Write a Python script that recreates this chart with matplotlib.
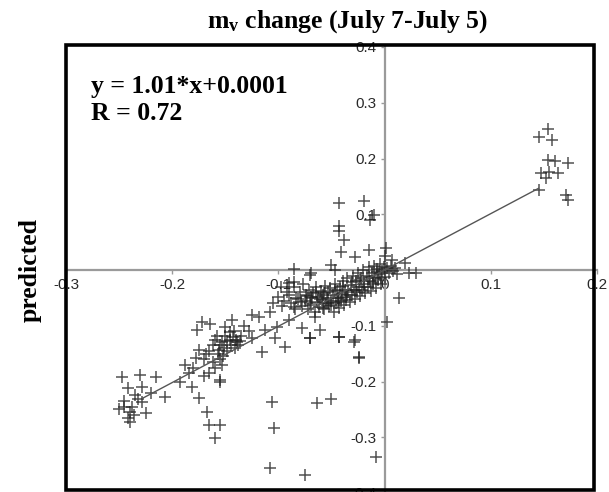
import matplotlib
matplotlib.use("Agg")
import matplotlib.pyplot as plt
from matplotlib.patches import Rectangle
from matplotlib.ticker import FixedLocator, FuncFormatter

plt.rcParams['axes.unicode_minus'] = False
plt.rcParams['mathtext.fontset'] = 'custom'
plt.rcParams['mathtext.rm'] = 'Liberation Serif:bold'
plt.rcParams['mathtext.it'] = 'Liberation Serif:bold'
plt.rcParams['mathtext.bf'] = 'Liberation Serif:bold'

# ---- data (observed vs predicted m_v change) ----
obs_x = [
    # upper right cluster
    0.154, 0.145, 0.158, 0.154, 0.160, 0.173, 0.147, 0.155, 0.163, 0.152, 0.145, 0.171, 0.173,
    # points above axis near y-axis
    -0.043, -0.019, -0.010, -0.014, -0.043, -0.043, -0.038, -0.041, -0.015, 0.001, -0.028, 0.000,
    0.007, 0.019, 0.030, 0.023,
    # scattered lower right of core
    0.014, 0.002, -0.029, -0.024, -0.043, -0.070, -0.064, -0.050, -0.008, -0.075, -0.106, -0.104,
    -0.108, -0.167, -0.165, -0.155, -0.160, -0.155,
    # lower-left cluster
    -0.247, -0.230, -0.215, -0.242, -0.228, -0.235, -0.228, -0.245, -0.240, -0.225, -0.242, -0.240,
    -0.207, -0.193, -0.184, -0.188, -0.178, -0.175, -0.177, -0.172, -0.164, -0.150, -0.144, -0.158,
    -0.153, -0.146, -0.141, -0.156, -0.162, -0.153, -0.165, -0.155, -0.181, -0.175,
    -0.238, -0.232, -0.245, -0.236, -0.220, -0.250,
    -0.150, -0.145, -0.140, -0.155, -0.148, -0.160, -0.135, -0.142, -0.138, -0.152, -0.165, -0.170,
    -0.160, -0.180, -0.170, -0.155, -0.132, -0.128,
    -0.148, -0.143, -0.151, -0.139, -0.157, -0.146, -0.162, -0.168, -0.136,
    # band between clusters
    -0.090, -0.085, -0.070, -0.100, -0.085, -0.069, -0.066, -0.070, -0.090, -0.078, -0.061, -0.043,
    -0.028, -0.024, -0.125, -0.118, -0.125, -0.115, -0.113, -0.103, -0.094, -0.101,
    -0.098, -0.095, -0.092, -0.097, -0.069, -0.085, -0.050, -0.047, -0.105, -0.108,
    # dense core
    -0.090, -0.088, -0.085, -0.084, -0.082, -0.080, -0.078, -0.077, -0.075, -0.074, -0.072, -0.071,
    -0.070, -0.068, -0.067, -0.066, -0.065, -0.064, -0.063, -0.062, -0.060, -0.059, -0.058, -0.057,
    -0.056, -0.055, -0.054, -0.053, -0.052, -0.051, -0.050, -0.049, -0.048, -0.047, -0.046, -0.045,
    -0.044, -0.043, -0.042, -0.041, -0.040, -0.039, -0.038, -0.037, -0.036, -0.035, -0.034, -0.033,
    -0.032, -0.031, -0.030, -0.029, -0.028, -0.027, -0.026, -0.025, -0.024, -0.023, -0.022, -0.021,
    -0.020, -0.019, -0.018, -0.017, -0.016, -0.015, -0.014, -0.013, -0.012, -0.011, -0.010, -0.009,
    -0.008, -0.007, -0.006, -0.005, -0.004, -0.003, -0.002, -0.001, 0.000, 0.002, 0.004, 0.006,
    0.008, 0.010, 0.012,
    -0.083, -0.079, -0.073, -0.069, -0.061, -0.057, -0.053, -0.047, -0.043, -0.039, -0.035, -0.031,
    -0.027, -0.023, -0.019, -0.015, -0.011, -0.007, -0.003, -0.065, -0.058, -0.050, -0.044, -0.036,
]
pred_y = [
    0.253, 0.239, 0.233, 0.197, 0.196, 0.192, 0.174, 0.176, 0.174, 0.165, 0.144, 0.135, 0.126,
    0.120, 0.124, 0.099, 0.090, 0.079, 0.070, 0.054, 0.032, 0.036, 0.039, 0.023, 0.025,
    0.018, 0.013, -0.005, -0.005,
    -0.050, -0.093, -0.129, -0.158, -0.120, -0.122, -0.239, -0.232, -0.336, -0.368, -0.237, -0.284,
    -0.355, -0.255, -0.278, -0.278, -0.302, -0.201,
    -0.192, -0.189, -0.192, -0.212, -0.210, -0.224, -0.237, -0.246, -0.255, -0.257, -0.266, -0.273,
    -0.228, -0.201, -0.185, -0.171, -0.158, -0.144, -0.108, -0.093, -0.097, -0.102, -0.090, -0.118,
    -0.129, -0.126, -0.140, -0.144, -0.165, -0.171, -0.185, -0.197, -0.210, -0.230,
    -0.245, -0.232, -0.235, -0.260, -0.220, -0.250,
    -0.118, -0.135, -0.125, -0.135, -0.145, -0.125, -0.118, -0.110, -0.135, -0.155, -0.145, -0.160,
    -0.175, -0.175, -0.190, -0.160, -0.100, -0.110,
    -0.128, -0.120, -0.140, -0.130, -0.150, -0.112, -0.135, -0.150, -0.128,
    -0.023, -0.022, -0.009, -0.048, -0.066, -0.048, -0.084, -0.122, -0.090, -0.104, -0.108, -0.120,
    -0.126, -0.156, -0.081, -0.084, -0.122, -0.147, -0.108, -0.122, -0.138, -0.102,
    -0.030, -0.055, -0.040, -0.065, -0.005, 0.002, 0.009, 0.000, -0.060, -0.075,
    -0.045, -0.060, -0.030, -0.070, -0.052, -0.040, -0.065, -0.025, -0.055, -0.045, -0.070, -0.035,
    -0.060, -0.050, -0.042, -0.075, -0.030, -0.058, -0.048, -0.066, -0.038, -0.054, -0.045, -0.070,
    -0.028, -0.060, -0.050, -0.040, -0.065, -0.033, -0.055, -0.045, -0.075, -0.025, -0.060, -0.038,
    -0.050, -0.068, -0.030, -0.055, -0.043, -0.020, -0.062, -0.035, -0.048, -0.015, -0.040, -0.057,
    -0.027, -0.045, -0.010, -0.035, -0.052, -0.020, -0.040, -0.005, -0.030, -0.047, -0.015, -0.035,
    0.000, -0.025, -0.042, -0.010, -0.030, 0.005, -0.020, -0.038, -0.005, -0.025, 0.008, -0.015,
    -0.032, 0.002, -0.018, -0.008, 0.010, -0.025, -0.002, 0.005, -0.012, 0.003, -0.005, 0.008,
    -0.002, 0.004, -0.008,
    -0.050, -0.058, -0.046, -0.062, -0.052, -0.042, -0.060, -0.036, -0.050, -0.028, -0.044, -0.022,
    -0.036, -0.018, -0.030, -0.012, -0.022, -0.004, -0.015, -0.040, -0.068, -0.062, -0.058, -0.054,
]

fit_slope = 1.01
fit_intercept = 0.0001
fit_x = [-0.228, 0.145]

x_ticks = [-0.3, -0.2, -0.1, 0.0, 0.1, 0.2]
y_ticks = [-0.4, -0.3, -0.2, -0.1, 0.1, 0.2, 0.3, 0.4]

title = r"$\mathrm{m_v}$ change (July 7-July 5)"
eq_text = "y = 1.01*x+0.0001"
r_text = "R = 0.72"
ylabel = "predicted"

# ---- figure ----
W, H = 609, 492
fig = plt.figure(figsize=(W / 100, H / 100), dpi=100)
ax = fig.add_axes([66 / W, (H - 493) / H, (597 - 66) / W, (493 - 47) / H])
ax.set_xlim(-0.3, 0.2)
ax.set_ylim(-0.4, 0.4)

for s in ['top', 'right']:
    ax.spines[s].set_visible(False)
for s in ['left', 'bottom']:
    ax.spines[s].set_position('zero')
    ax.spines[s].set_color('#9a9a9a')
    ax.spines[s].set_linewidth(1.6)

fmt = FuncFormatter(lambda v, p: "0" if abs(v) < 1e-9 else f"{v:g}")
ax.xaxis.set_major_locator(FixedLocator(x_ticks))
ax.yaxis.set_major_locator(FixedLocator(y_ticks))
ax.xaxis.set_major_formatter(fmt)
ax.yaxis.set_major_formatter(fmt)
ax.tick_params(axis='both', direction='out', length=3, width=1, color='#9a9a9a',
               labelsize=11, labelcolor='#2a2a2a', pad=3)
for lab in ax.get_xticklabels() + ax.get_yticklabels():
    lab.set_fontfamily('Liberation Sans')

ax.plot(obs_x, pred_y, linestyle='none', marker='+', markersize=9, markeredgewidth=1.1,
        color='#222222', alpha=0.78, zorder=3)
fx = fit_x
fy = [fit_slope * v + fit_intercept for v in fx]
ax.plot(fx, fy, color='#555555', linewidth=1.0, zorder=4)

# outer thick frame
fig.add_artist(Rectangle((65.5 / W, (H - 490) / H), (594 - 65.5) / W, (490 - 45) / H,
                         transform=fig.transFigure, fill=False, edgecolor='black',
                         linewidth=2.6, zorder=10))

serif = 'Liberation Serif'
fig.text(347 / W, 1 - 22 / H, title, ha='center', va='center', fontsize=18.5,
         fontfamily=serif, fontweight='bold')
fig.text(91 / W, 1 - 86 / H, eq_text, ha='left', va='center', fontsize=18.5,
         fontfamily=serif, fontweight='bold')
fig.text(91 / W, 1 - 113 / H, r_text, ha='left', va='center', fontsize=18.5,
         fontfamily=serif, fontweight='bold')
fig.text(30 / W, 1 - 270 / H, ylabel, ha='center', va='center', rotation=90, fontsize=18.5,
         fontfamily=serif, fontweight='bold')

fig.savefig('out.png', dpi=100)
